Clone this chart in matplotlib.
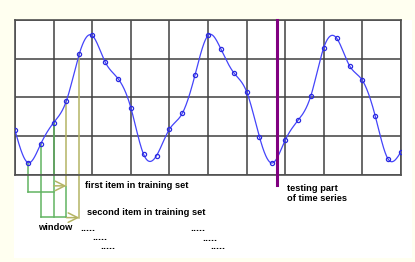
import numpy as np
import matplotlib
matplotlib.use("Agg")
import matplotlib.pyplot as plt
from matplotlib.patches import Rectangle

# ---- data ----
x_vals = [k / 3 for k in range(31)]
y_vals = [1.15, 0.32, 0.80, 1.35, 1.92, 3.13, 3.60, 2.92, 2.49, 1.74,
          0.53, 0.50, 1.18, 1.59, 2.59, 3.60, 3.25, 2.64, 2.15, 0.98,
          0.31, 0.90, 1.41, 2.05, 3.29, 3.53, 2.82, 2.44, 1.52, 0.41, 0.60]
split_x = 6.78
labels_window = ["first item in training set", "second item in training set", "window"]
label_test = "testing part\nof time series"


def natural_spline(x, y, n=1200):
    x = np.asarray(x, float); y = np.asarray(y, float)
    m = len(x); h = np.diff(x)
    A = np.zeros((m, m)); b = np.zeros(m)
    A[0, 0] = A[-1, -1] = 1
    for i in range(1, m - 1):
        A[i, i - 1] = h[i - 1]; A[i, i] = 2 * (h[i - 1] + h[i]); A[i, i + 1] = h[i]
        b[i] = 3 * ((y[i + 1] - y[i]) / h[i] - (y[i] - y[i - 1]) / h[i - 1])
    c = np.linalg.solve(A, b)
    bb = (y[1:] - y[:-1]) / h - h * (2 * c[:-1] + c[1:]) / 3
    d = (c[1:] - c[:-1]) / (3 * h)
    xs = np.linspace(x[0], x[-1], n)
    idx = np.clip(np.searchsorted(x, xs) - 1, 0, m - 2)
    dx = xs - x[idx]
    ys = y[idx] + bb[idx] * dx + c[idx] * dx ** 2 + d[idx] * dx ** 3
    return xs, ys


W, H = 415, 262
fig = plt.figure(figsize=(W / 100, H / 100), dpi=100, facecolor="#FFFFF0")
fig.patches.append(Rectangle((14 / W, (H - 258) / H), (412 - 14) / W, (258 - 20) / H,
                             transform=fig.transFigure, facecolor="white",
                             edgecolor="none", zorder=-10))
ax = fig.add_axes([15 / W, (H - 175) / H, 386 / W, 155 / H])
ax.set_xlim(0, 10)
ax.set_ylim(0, 4)
ax.set_xticks(range(11))
ax.set_yticks(range(5))
ax.tick_params(length=0, labelbottom=False, labelleft=False)
ax.grid(True, color="#404040", linewidth=1.1)
for s in ax.spines.values():
    s.set_color("#505050")
    s.set_linewidth(1.2)
ax.set_facecolor("white")

xs, ys = natural_spline(x_vals, y_vals)
ax.plot(xs, ys, color="#4444FA", linewidth=0.9, zorder=3)
ax.plot(x_vals, y_vals, linestyle="none", marker="o", markersize=3.0,
        markerfacecolor="none", markeredgecolor="#2A2AE0", markeredgewidth=0.9, zorder=4)

green = "#62B462"
olive = "#B4B464"
kw = dict(clip_on=False, zorder=2, linewidth=1.1)
y1, y2 = -0.43, -1.08
# first window (points 1..3)
ax.plot([x_vals[1], x_vals[1]], [y_vals[1], y1], color=green, **kw)
ax.plot([x_vals[2], x_vals[2]], [y_vals[2], y2], color=green, **kw)
ax.plot([x_vals[3], x_vals[3]], [y_vals[3], y2], color=green, **kw)
ax.plot([x_vals[1], x_vals[3]], [y1, y1], color=green, **kw)
# second window (points 2..4)
ax.plot([x_vals[4], x_vals[4]], [y_vals[4], -0.28], color=olive, **kw)
ax.plot([x_vals[4], x_vals[4]], [-0.30, y2], color=green, **kw)
ax.plot([x_vals[2], x_vals[4]], [y2, y2], color=green, **kw)
ax.plot([x_vals[5], x_vals[5]], [y_vals[5], -1.12], color=olive, **kw)
# arrows
ap = dict(arrowstyle="->", color=olive, lw=1.1, mutation_scale=17, shrinkA=0, shrinkB=0)
ax.annotate("", xy=(x_vals[4], -0.28), xytext=(x_vals[3], -0.28),
            arrowprops=ap, annotation_clip=False)
ax.annotate("", xy=(x_vals[5], -1.10), xytext=(x_vals[4], -1.10),
            arrowprops=ap, annotation_clip=False)

# split line
ax.plot([split_x, split_x], [4, -0.26], color="#800080", linewidth=2.2, clip_on=False, zorder=5)

tk = dict(fontsize=6.7, fontweight="bold", family="Liberation Sans", color="black")
ax.text(1.81, -0.28, labels_window[0], va="center", ha="left", **tk)
ax.text(1.87, -0.97, labels_window[1], va="center", ha="left", **tk)
ax.text(0.60, -1.35, labels_window[2], va="center", ha="left", **tk)
ax.text(7.04, -0.47, label_test, va="center", ha="left", linespacing=1.15, **tk)
tk_dots = dict(tk, fontsize=7.6)
for (dx, dy) in [(1.68, -1.44), (1.99, -1.68), (2.20, -1.91),
                 (4.55, -1.45), (4.84, -1.70), (5.07, -1.92)]:
    ax.text(dx, dy, ".....", va="baseline", ha="left", **tk_dots)

fig.savefig("out.png", dpi=100, facecolor=fig.get_facecolor())
